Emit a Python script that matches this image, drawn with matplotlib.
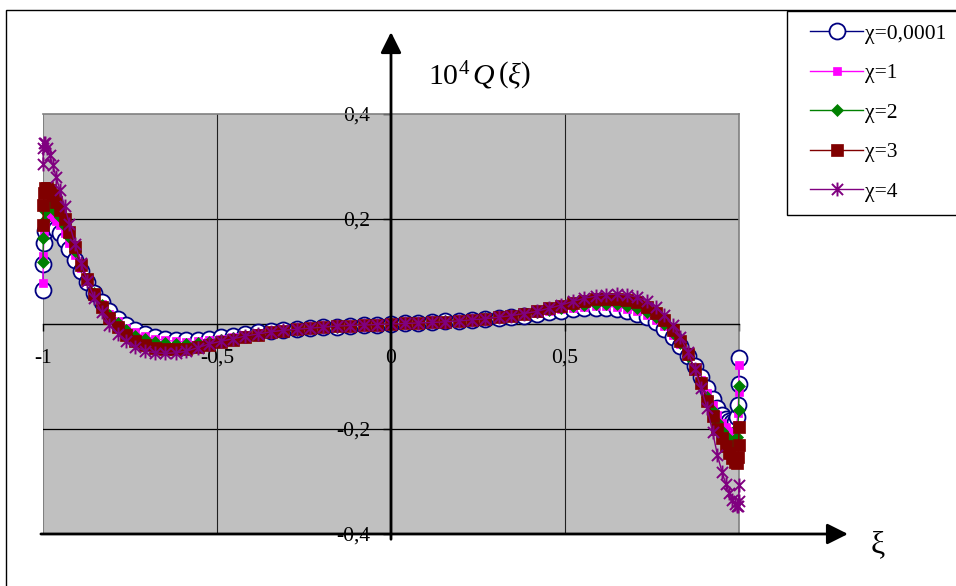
import matplotlib
matplotlib.use('Agg')
import matplotlib.pyplot as plt
from matplotlib.path import Path
from matplotlib.patches import Rectangle
from matplotlib.legend_handler import HandlerLine2D

plt.rcParams['font.family'] = ['Liberation Serif', 'DejaVu Serif']
plt.rcParams['mathtext.fontset'] = 'custom'
plt.rcParams['mathtext.rm'] = 'Liberation Serif'
plt.rcParams['mathtext.it'] = 'Liberation Serif:italic'

# ---------------- data ----------------
xi = [-1.0, -0.9992, -0.9969, -0.9931, -0.9877, -0.9808, -0.9724, -0.9625, -0.9511, -0.9382,
      -0.9239, -0.9081, -0.8910, -0.8725, -0.8526, -0.8315, -0.8090, -0.7853, -0.7604, -0.7343,
      -0.7071, -0.6788, -0.6494, -0.6191, -0.5878, -0.5556, -0.5225, -0.4886, -0.4540, -0.4187,
      -0.3827, -0.3461, -0.3090, -0.2714, -0.2334, -0.1951, -0.1564, -0.1175, -0.0785, -0.0393,
      0.0,
      0.0393, 0.0785, 0.1175, 0.1564, 0.1951, 0.2334, 0.2714, 0.3090, 0.3461, 0.3827,
      0.4187, 0.4540, 0.4886, 0.5225, 0.5556, 0.5878, 0.6191, 0.6494, 0.6788, 0.7071,
      0.7343, 0.7604, 0.7853, 0.8090, 0.8315, 0.8526, 0.8725, 0.8910, 0.9081, 0.9239,
      0.9382, 0.9511, 0.9625, 0.9724, 0.9808, 0.9877, 0.9931, 0.9969, 0.9992, 1.0]

q_chi_0001 = [0.065, 0.115, 0.155, 0.178, 0.186, 0.187, 0.185, 0.181, 0.174, 0.160,
              0.142, 0.121, 0.101, 0.080, 0.060, 0.041, 0.024, 0.010, -0.002, -0.012,
              -0.019, -0.024, -0.028, -0.030, -0.031, -0.030, -0.028, -0.025, -0.022, -0.019,
              -0.016, -0.014, -0.012, -0.010, -0.008, -0.006, -0.005, -0.003, -0.002, -0.001,
              0.000,
              0.001, 0.002, 0.003, 0.005, 0.006, 0.008, 0.010, 0.012, 0.014, 0.016,
              0.019, 0.022, 0.025, 0.028, 0.030, 0.031, 0.031, 0.029, 0.025, 0.020,
              0.013, 0.003, -0.009, -0.024, -0.041, -0.060, -0.080, -0.101, -0.121, -0.142,
              -0.160, -0.174, -0.181, -0.185, -0.187, -0.186, -0.178, -0.155, -0.115, -0.065]

q_chi_1 = [0.078, 0.130, 0.170, 0.193, 0.203, 0.205, 0.203, 0.197, 0.188, 0.174,
           0.155, 0.131, 0.106, 0.083, 0.060, 0.039, 0.020, 0.005, -0.007, -0.016,
           -0.023, -0.028, -0.031, -0.033, -0.034, -0.033, -0.031, -0.028, -0.024, -0.021,
           -0.018, -0.015, -0.013, -0.011, -0.008, -0.006, -0.005, -0.003, -0.002, -0.001,
           0.000,
           0.001, 0.002, 0.003, 0.005, 0.006, 0.008, 0.011, 0.013, 0.015, 0.018,
           0.021, 0.024, 0.028, 0.031, 0.033, 0.034, 0.034, 0.032, 0.029, 0.024,
           0.017, 0.008, -0.004, -0.020, -0.039, -0.060, -0.083, -0.106, -0.131, -0.155,
           -0.174, -0.188, -0.197, -0.203, -0.205, -0.203, -0.193, -0.170, -0.130, -0.078]

q_chi_2 = [0.119, 0.163, 0.196, 0.216, 0.225, 0.226, 0.222, 0.214, 0.203, 0.187,
           0.166, 0.139, 0.111, 0.085, 0.060, 0.037, 0.017, 0.001, -0.012, -0.022,
           -0.029, -0.034, -0.037, -0.038, -0.038, -0.037, -0.034, -0.030, -0.026, -0.022,
           -0.019, -0.016, -0.013, -0.011, -0.008, -0.006, -0.005, -0.003, -0.002, -0.001,
           0.000,
           0.001, 0.002, 0.003, 0.005, 0.006, 0.008, 0.011, 0.013, 0.016, 0.019,
           0.022, 0.026, 0.030, 0.034, 0.037, 0.038, 0.039, 0.038, 0.035, 0.030,
           0.023, 0.013, 0.000, -0.017, -0.037, -0.060, -0.085, -0.111, -0.139, -0.166,
           -0.187, -0.203, -0.214, -0.222, -0.226, -0.225, -0.216, -0.196, -0.163, -0.119]

q_chi_3 = [0.189, 0.227, 0.250, 0.259, 0.260, 0.255, 0.246, 0.233, 0.218, 0.200,
           0.175, 0.146, 0.113, 0.085, 0.058, 0.033, 0.012, -0.006, -0.020, -0.032,
           -0.040, -0.045, -0.047, -0.048, -0.047, -0.044, -0.040, -0.035, -0.030, -0.025,
           -0.020, -0.016, -0.013, -0.010, -0.008, -0.006, -0.004, -0.003, -0.002, -0.001,
           0.000,
           0.001, 0.002, 0.003, 0.004, 0.006, 0.008, 0.010, 0.013, 0.016, 0.020,
           0.025, 0.030, 0.035, 0.040, 0.044, 0.047, 0.048, 0.048, 0.046, 0.041,
           0.033, 0.021, 0.007, -0.012, -0.033, -0.058, -0.085, -0.113, -0.146, -0.175,
           -0.200, -0.218, -0.233, -0.246, -0.256, -0.262, -0.264, -0.254, -0.230, -0.196]

q_chi_4 = [0.305, 0.335, 0.345, 0.344, 0.336, 0.322, 0.303, 0.280, 0.255, 0.225,
           0.190, 0.153, 0.116, 0.081, 0.050, 0.022, -0.001, -0.019, -0.033, -0.044,
           -0.051, -0.055, -0.056, -0.055, -0.052, -0.045, -0.038, -0.033, -0.028, -0.023,
           -0.019, -0.015, -0.012, -0.010, -0.008, -0.006, -0.004, -0.003, -0.002, -0.001,
           0.000,
           0.001, 0.002, 0.003, 0.004, 0.006, 0.008, 0.010, 0.013, 0.016, 0.020,
           0.024, 0.030, 0.036, 0.043, 0.049, 0.053, 0.056, 0.057, 0.055, 0.051,
           0.044, 0.033, 0.018, -0.001, -0.025, -0.053, -0.085, -0.122, -0.160, -0.205,
           -0.250, -0.282, -0.305, -0.322, -0.335, -0.343, -0.347, -0.346, -0.337, -0.307]

series_labels = ['χ=0,0001', 'χ=1', 'χ=2', 'χ=3', 'χ=4']
x_ticks = [-1, -0.5, 0, 0.5, 1]
x_tick_labels = ['-1', '-0,5', '0', '0,5', '']
y_ticks = [-0.4, -0.2, 0, 0.2, 0.4]
y_tick_labels = ['-0,4', '-0,2', '0', '0,2', '0,4']
y_grid = [-0.2, 0.2]
x_grid = [-0.5, 0.5]

# ---------------- figure ----------------
W, H = 956, 586
fig = plt.figure(figsize=(W / 100, H / 100), dpi=100)
fig.patch.set_facecolor('white')
ax = fig.add_axes([43 / W, 52 / H, 696 / W, 420 / H])
ax.set_facecolor('#C0C0C0')
ax.set_xlim(-1, 1)
ax.set_ylim(-0.4, 0.4)

for s in ['top', 'right']:
    ax.spines[s].set_color('#808080')
    ax.spines[s].set_linewidth(1.2)
ax.spines['left'].set_position(('data', 0))
ax.spines['left'].set_color('black')
ax.spines['left'].set_linewidth(1.5)
ax.spines['bottom'].set_position(('data', 0))
ax.spines['bottom'].set_color('black')
ax.spines['bottom'].set_linewidth(1.0)

ax.set_xticks(x_ticks, x_tick_labels)
ax.set_yticks(y_ticks, y_tick_labels)
ax.tick_params(axis='x', direction='out', length=5, width=1, pad=13, labelsize=15.5, colors='black')
ax.tick_params(axis='y', direction='out', length=6, width=1, pad=9, labelsize=15.5, colors='black')

ax.axvline(-1, color='#808080', lw=1.5, zorder=1)
for v in y_grid:
    ax.axhline(v, color='black', lw=0.9, zorder=1)
for v in x_grid:
    ax.axvline(v, color='#202020', lw=0.8, zorder=1)

star = Path([(0, -1), (0, 1), (-0.8, -0.8), (0.8, 0.8), (-0.8, 0.8), (0.8, -0.8)],
            [Path.MOVETO, Path.LINETO, Path.MOVETO, Path.LINETO, Path.MOVETO, Path.LINETO])

h0, = ax.plot(xi, q_chi_0001, color='#000080', lw=1, marker='o', ms=11.5, mfc='white',
              mec='#000080', mew=1.3, clip_on=False, zorder=3, label=series_labels[0])
h1, = ax.plot(xi, q_chi_1, color='#FF00FF', lw=1, marker='s', ms=5.5, mfc='#FF00FF',
              mec='#FF00FF', mew=0.5, clip_on=False, zorder=3.1, label=series_labels[1])
h2, = ax.plot(xi, q_chi_2, color='#008000', lw=1, marker='D', ms=6.5, mfc='#008000',
              mec='#008000', mew=0.5, clip_on=False, zorder=3.2, label=series_labels[2])
h3, = ax.plot(xi, q_chi_3, color='#800000', lw=1, marker='s', ms=8.5, mfc='#800000',
              mec='#800000', mew=0.5, clip_on=False, zorder=3.3, label=series_labels[3])
h4, = ax.plot(xi, q_chi_4, color='#800080', lw=1, marker=star, ms=10, mfc='none',
              mec='#800080', mew=1.4, clip_on=False, zorder=3.4, label=series_labels[4])

# axis arrows
arrow_kw = dict(arrowstyle='-|>,head_length=0.9,head_width=0.45', lw=2, color='black',
                shrinkA=0, shrinkB=0, mutation_scale=14)
ax.annotate('', xy=(1.313, -0.4), xytext=(-1.006, -0.4), xycoords='data',
            arrowprops=arrow_kw, annotation_clip=False, zorder=6)
ax.annotate('', xy=(0, 0.556), xytext=(0, -0.41), xycoords='data',
            arrowprops=arrow_kw, annotation_clip=False, zorder=6)

ax.text(0.105, 0.474, r'$10^4\,Q\,\left(\xi\right)$', fontsize=21.5, ha='left', va='center')
ax.text(1.399, -0.421, 'ξ', fontsize=23, ha='center', va='center', clip_on=False)

fs = 15.5
handler = HandlerLine2D(xpad=10 / (fs * 100 / 72))
leg = fig.legend(handles=[h0, h1, h2, h3, h4], labels=series_labels, loc='upper left',
                 bbox_to_anchor=(787 / W, 1 - 11 / H), bbox_transform=fig.transFigure,
                 frameon=True, fancybox=False, edgecolor='black', framealpha=1,
                 borderaxespad=0, fontsize=fs, handlelength=2.95, handletextpad=0.08,
                 labelspacing=0.9, borderpad=0.6,
                 handler_map={h: handler for h in [h0, h1, h2, h3, h4]})
leg.get_frame().set_linewidth(1.0)

fig.patches.append(Rectangle((6 / W, -0.02), 1.0, (H - 10) / H + 0.02, transform=fig.transFigure,
                             fill=False, edgecolor='black', lw=1.0))

fig.savefig('out.png', dpi=100)
